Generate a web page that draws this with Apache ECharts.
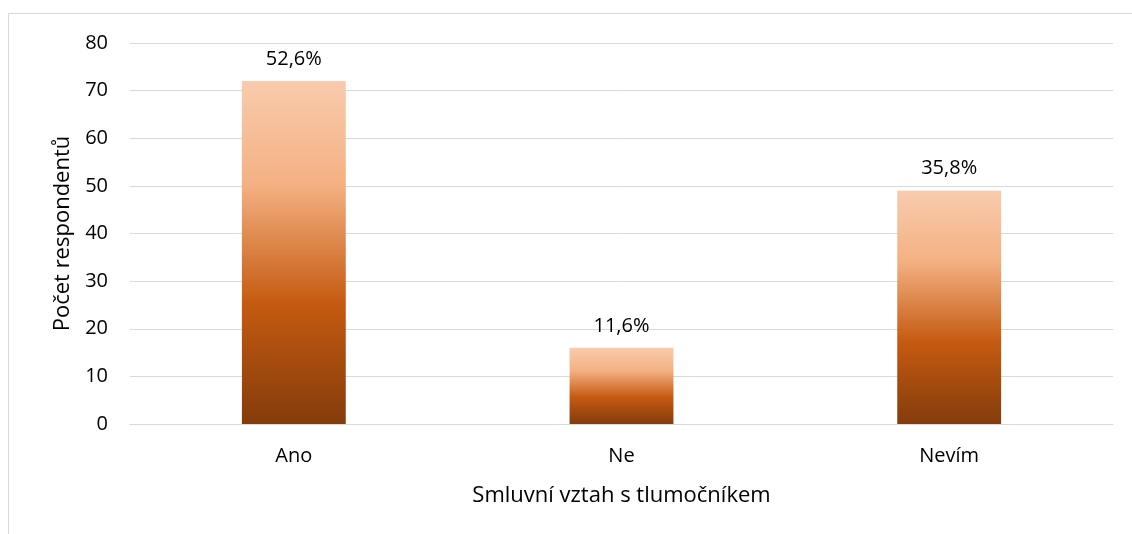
<!DOCTYPE html>
<html>
<head>
<meta charset="utf-8">
<script src="https://cdn.jsdelivr.net/npm/echarts@6/dist/echarts.min.js"></script>
<style>
  html, body { margin: 0; padding: 0; background: #fff; }
  #frame { position: absolute; left: 8px; top: 13px; width: 1140px; height: 540px; border: 1px solid #d9d9d9; box-sizing: border-box; }
  #chart { position: absolute; left: 0; top: 0; width: 1132px; height: 534px; }
</style>
</head>
<body>
<div id="frame"></div>
<div id="chart"></div>
<script>
// data
const categories = ['Ano', 'Ne', 'Nevím'];
const counts = [72, 16, 49];
const percents = ['52,6%', '11,6%', '35,8%'];
const yTicks = [0, 10, 20, 30, 40, 50, 60, 70, 80];

const font = 'Open Sans, Liberation Sans, sans-serif';

const barGradient = new echarts.graphic.LinearGradient(0, 0, 0, 1, [
  { offset: 0, color: '#F8CBAD' },
  { offset: 0.3, color: '#F4B183' },
  { offset: 0.65, color: '#C55A11' },
  { offset: 1, color: '#843C0C' }
]);

let myChart = echarts.init(document.getElementById('chart'));
myChart.setOption({
  animation: false,
  textStyle: { fontFamily: font },
  grid: { left: 130, right: 19, top: 43, bottom: 110, containLabel: false },
  xAxis: {
    type: 'category',
    data: categories,
    name: 'Smluvní vztah s tlumočníkem',
    nameLocation: 'middle',
    nameGap: 61,
    nameTextStyle: { fontSize: 22, color: '#000', fontFamily: font },
    axisTick: { show: false },
    axisLine: { lineStyle: { color: '#d9d9d9', width: 1 } },
    axisLabel: { fontSize: 20, color: '#000', margin: 22, fontFamily: font }
  },
  yAxis: {
    type: 'value',
    min: yTicks[0],
    max: yTicks[yTicks.length - 1],
    interval: 10,
    name: 'Počet respondentů',
    nameLocation: 'middle',
    nameGap: 56,
    nameTextStyle: { fontSize: 22, color: '#000', fontFamily: font },
    axisLine: { show: false },
    axisTick: { show: false },
    axisLabel: { fontSize: 20, color: '#000', margin: 22, fontFamily: font },
    splitLine: { lineStyle: { color: '#d9d9d9', width: 1 } }
  },
  series: [{
    type: 'bar',
    data: counts,
    barWidth: '31.7%',
    itemStyle: { color: barGradient },
    label: {
      show: true,
      position: 'top',
      distance: 12,
      fontSize: 20,
      color: '#000',
      fontFamily: font,
      formatter: p => percents[p.dataIndex]
    }
  }]
});
</script>
</body>
</html>
